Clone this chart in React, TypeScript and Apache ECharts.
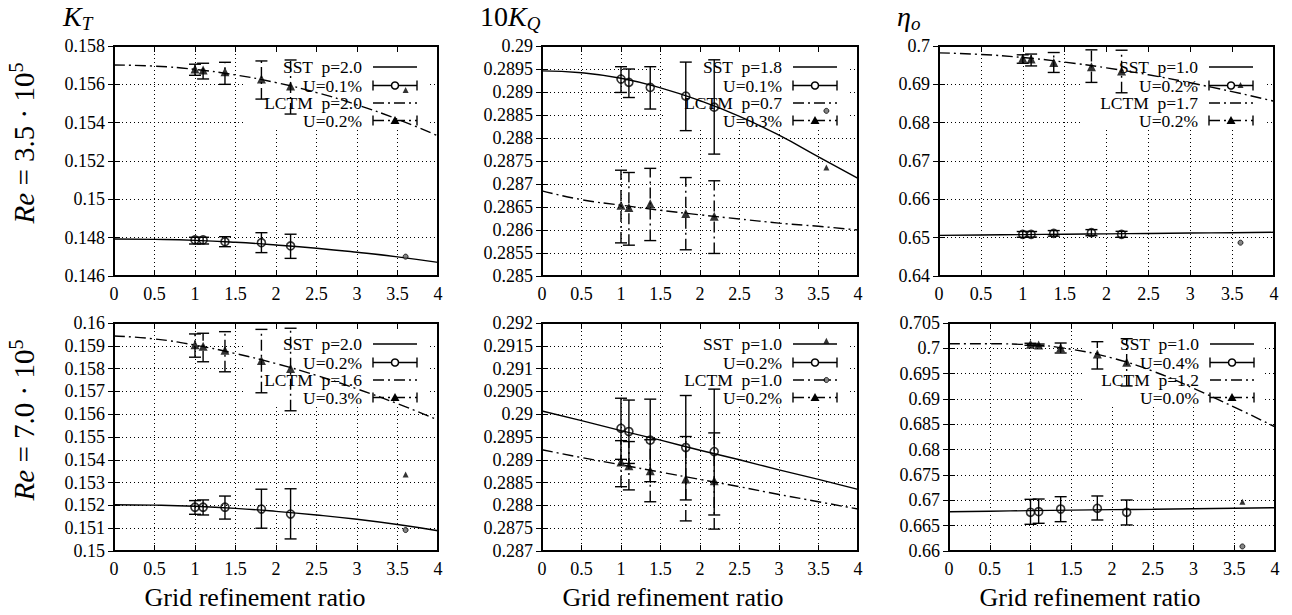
import React, { useEffect, useRef } from "react";
import * as echarts from "echarts";

const FONT = "Liberation Serif";
const DASHDOT = [11, 4, 2, 4];

// ---- x positions ----
const refineX = [1.0, 1.1, 1.37, 1.82, 2.18];
const coarseX = 3.6;
const fitX = [0, 0.5, 1, 1.5, 2, 2.5, 3, 3.5, 4];

// ---- Panel 1: K_T, Re = 3.5e5 ----
const kt35SstY = [0.14788, 0.14788, 0.14779, 0.14774, 0.14757];
const kt35SstLo = [0.14767, 0.14767, 0.14753, 0.14722, 0.14692];
const kt35SstHi = [0.14802, 0.14802, 0.14805, 0.14826, 0.14818];
const kt35LctmY = [0.1568, 0.15675, 0.15666, 0.15628, 0.15591];
const kt35LctmLo = [0.15647, 0.15628, 0.156, 0.15523, 0.15445];
const kt35LctmHi = [0.15705, 0.1571, 0.15715, 0.15722, 0.15727];
const kt35SstFit = [0.14793, 0.14791, 0.14786, 0.14776, 0.14762, 0.14745, 0.14724, 0.147, 0.14671];
const kt35LctmFit = [0.15701, 0.15695, 0.15678, 0.15649, 0.15609, 0.15557, 0.15493, 0.15418, 0.15331];
const kt35CoarseCircle = 0.14701;
const kt35CoarseTri = 0.1557;
const kt35Legend = ["SST  p=2.0", "U=0.1%", "LCTM  p=2.0", "U=0.2%"];

// ---- Panel 2: 10K_Q, Re = 3.5e5 ----
const kq35SstY = [0.28928, 0.28921, 0.2891, 0.28891, 0.28867];
const kq35SstLo = [0.28899, 0.28888, 0.28863, 0.28816, 0.28765];
const kq35SstHi = [0.28955, 0.2895, 0.28955, 0.28965, 0.2897];
const kq35LctmY = [0.28654, 0.28649, 0.28657, 0.28636, 0.2863];
const kq35LctmLo = [0.28572, 0.28567, 0.28577, 0.28557, 0.28549];
const kq35LctmHi = [0.2873, 0.28725, 0.28734, 0.28714, 0.28707];
const kq35SstFit = [0.28946, 0.28942, 0.2893, 0.28909, 0.28881, 0.28847, 0.28806, 0.28759, 0.28712];
const kq35LctmFit = [0.28685, 0.28666, 0.28654, 0.28643, 0.28633, 0.28624, 0.28615, 0.28608, 0.286];
const kq35CoarseCircle = 0.28859;
const kq35CoarseTri = 0.28736;
const kq35Legend = ["SST  p=1.8", "U=0.1%", "LCTM  p=0.7", "U=0.3%"];

// ---- Panel 3: eta_o, Re = 3.5e5 ----
const eta35SstY = [0.65087, 0.65087, 0.65113, 0.6513, 0.65087];
const eta35SstLo = [0.6501, 0.65015, 0.6504, 0.6505, 0.6501];
const eta35SstHi = [0.6516, 0.6516, 0.65185, 0.6521, 0.65165];
const eta35LctmY = [0.6968, 0.6966, 0.6957, 0.6946, 0.6935];
const eta35LctmLo = [0.6955, 0.6948, 0.6931, 0.6905, 0.6878];
const eta35LctmHi = [0.6977, 0.6979, 0.6983, 0.699, 0.6989];
const eta35SstFit = [0.6506, 0.6507, 0.6508, 0.6509, 0.651, 0.6511, 0.6512, 0.6513, 0.6514];
const eta35LctmFit = [0.6982, 0.6978, 0.697, 0.6958, 0.6943, 0.6925, 0.6904, 0.6881, 0.6856];
const eta35CoarseCircle = 0.64869;
const eta35CoarseTri = 0.68983;
const eta35Legend = ["SST  p=1.0", "U=0.2%", "LCTM  p=1.7", "U=0.2%"];

// ---- Panel 4: K_T, Re = 7.0e5 ----
const kt70SstY = [0.15192, 0.15192, 0.15192, 0.15184, 0.15162];
const kt70SstLo = [0.15161, 0.15158, 0.1514, 0.151, 0.15053];
const kt70SstHi = [0.15221, 0.15224, 0.15241, 0.15271, 0.15273];
const kt70LctmY = [0.15905, 0.15898, 0.1588, 0.15835, 0.158];
const kt70LctmLo = [0.1585, 0.1583, 0.15786, 0.15694, 0.15615];
const kt70LctmHi = [0.15952, 0.15955, 0.15962, 0.15972, 0.15977];
const kt70SstFit = [0.15203, 0.15201, 0.15196, 0.15187, 0.15174, 0.15158, 0.15139, 0.15116, 0.15089];
const kt70LctmFit = [0.15943, 0.1593, 0.15903, 0.15866, 0.15822, 0.1577, 0.15711, 0.15646, 0.15575];
const kt70CoarseCircle = 0.15092;
const kt70CoarseTri = 0.15336;
const kt70Legend = ["SST  p=2.0", "U=0.2%", "LCTM  p=1.6", "U=0.3%"];

// ---- Panel 5: 10K_Q, Re = 7.0e5 ----
const kq70SstY = [0.28969, 0.28962, 0.28943, 0.28927, 0.28918];
const kq70SstLo = [0.28901, 0.28892, 0.28852, 0.28812, 0.28779];
const kq70SstHi = [0.29035, 0.29031, 0.29033, 0.29041, 0.29055];
const kq70LctmY = [0.28895, 0.28887, 0.28876, 0.28858, 0.28854];
const kq70LctmLo = [0.28841, 0.28834, 0.28808, 0.28766, 0.28748];
const kq70LctmHi = [0.28942, 0.2894, 0.28944, 0.28951, 0.28959];
const kq70SstFit = [0.29007, 0.28986, 0.28964, 0.28943, 0.28921, 0.289, 0.28878, 0.28857, 0.28835];
const kq70LctmFit = [0.28922, 0.28905, 0.28889, 0.28873, 0.28857, 0.28841, 0.28824, 0.28808, 0.28792];
const kq70CoarseCircle = 0.29075;
const kq70CoarseTri = 0.29161;
const kq70Legend = ["SST  p=1.0", "U=0.2%", "LCTM  p=1.0", "U=0.2%"];

// ---- Panel 6: eta_o, Re = 7.0e5 ----
const eta70SstY = [0.66764, 0.66776, 0.66829, 0.66843, 0.66764];
const eta70SstLo = [0.66527, 0.66547, 0.66579, 0.66612, 0.66514];
const eta70SstHi = [0.6702, 0.67026, 0.67072, 0.67086, 0.67007];
const eta70LctmY = [0.7008, 0.70065, 0.70013, 0.69888, 0.69724];
const eta70LctmLo = [0.7006, 0.70045, 0.69908, 0.69592, 0.69257];
const eta70LctmHi = [0.701, 0.70085, 0.70105, 0.70131, 0.7019];
const eta70SstFit = [0.66776, 0.66786, 0.66796, 0.66806, 0.66816, 0.66825, 0.66835, 0.66845, 0.66855];
const eta70LctmFit = [0.7009, 0.7009, 0.7007, 0.6998, 0.6981, 0.6955, 0.6921, 0.6884, 0.6845];
const eta70CoarseCircle = 0.6609;
const eta70CoarseTri = 0.66973;
const eta70Legend = ["SST  p=1.0", "U=0.4%", "LCTM  p=1.2", "U=0.0%"];

// ---- axis ranges ----
const xMin = 0;
const xMax = 4;
const xStep = 0.5;

const panels = [
  { left: 114, top: 46, width: 324, height: 230, yMin: 0.146, yMax: 0.158, yStep: 0.002,
    sstY: kt35SstY, sstLo: kt35SstLo, sstHi: kt35SstHi, lctmY: kt35LctmY, lctmLo: kt35LctmLo, lctmHi: kt35LctmHi,
    sstFit: kt35SstFit, lctmFit: kt35LctmFit, cc: kt35CoarseCircle, ct: kt35CoarseTri, legend: kt35Legend },
  { left: 542, top: 46, width: 316, height: 230, yMin: 0.285, yMax: 0.29, yStep: 0.0005,
    sstY: kq35SstY, sstLo: kq35SstLo, sstHi: kq35SstHi, lctmY: kq35LctmY, lctmLo: kq35LctmLo, lctmHi: kq35LctmHi,
    sstFit: kq35SstFit, lctmFit: kq35LctmFit, cc: kq35CoarseCircle, ct: kq35CoarseTri, legend: kq35Legend },
  { left: 939, top: 46, width: 335, height: 230, yMin: 0.64, yMax: 0.7, yStep: 0.01,
    sstY: eta35SstY, sstLo: eta35SstLo, sstHi: eta35SstHi, lctmY: eta35LctmY, lctmLo: eta35LctmLo, lctmHi: eta35LctmHi,
    sstFit: eta35SstFit, lctmFit: eta35LctmFit, cc: eta35CoarseCircle, ct: eta35CoarseTri, legend: eta35Legend },
  { left: 114, top: 323, width: 324, height: 228, yMin: 0.15, yMax: 0.16, yStep: 0.001,
    sstY: kt70SstY, sstLo: kt70SstLo, sstHi: kt70SstHi, lctmY: kt70LctmY, lctmLo: kt70LctmLo, lctmHi: kt70LctmHi,
    sstFit: kt70SstFit, lctmFit: kt70LctmFit, cc: kt70CoarseCircle, ct: kt70CoarseTri, legend: kt70Legend },
  { left: 542, top: 323, width: 316, height: 228, yMin: 0.287, yMax: 0.292, yStep: 0.0005,
    sstY: kq70SstY, sstLo: kq70SstLo, sstHi: kq70SstHi, lctmY: kq70LctmY, lctmLo: kq70LctmLo, lctmHi: kq70LctmHi,
    sstFit: kq70SstFit, lctmFit: kq70LctmFit, cc: kq70CoarseCircle, ct: kq70CoarseTri, legend: kq70Legend },
  { left: 949, top: 323, width: 326, height: 228, yMin: 0.66, yMax: 0.705, yStep: 0.005,
    sstY: eta70SstY, sstLo: eta70SstLo, sstHi: eta70SstHi, lctmY: eta70LctmY, lctmLo: eta70LctmLo, lctmHi: eta70LctmHi,
    sstFit: eta70SstFit, lctmFit: eta70LctmFit, cc: eta70CoarseCircle, ct: eta70CoarseTri, legend: eta70Legend },
];

const MATH_RICH = {
  i: { fontFamily: FONT, fontStyle: "italic", fontSize: 28, lineHeight: 34, color: "#000" },
  r: { fontFamily: FONT, fontSize: 28, lineHeight: 34, color: "#000" },
  sub: { fontFamily: FONT, fontStyle: "italic", fontSize: 19, lineHeight: 19, verticalAlign: "bottom", color: "#000" },
  sup: { fontFamily: FONT, fontSize: 19, lineHeight: 19, verticalAlign: "top", color: "#000" },
};

function errRender(dash: number[] | null) {
  return (params: any, api: any) => {
    const x = api.value(0);
    const lo = api.value(1);
    const hi = api.value(2);
    const a = api.coord([x, lo]);
    const b = api.coord([x, hi]);
    const cap = 6;
    const st: any = { stroke: "#000", lineWidth: 1.4 };
    if (dash) st.lineDash = dash;
    const capSt = { stroke: "#000", lineWidth: 1.4 };
    return {
      type: "group",
      children: [
        { type: "line", shape: { x1: a[0], y1: a[1], x2: b[0], y2: b[1] }, style: st },
        { type: "line", shape: { x1: a[0] - cap, y1: a[1], x2: a[0] + cap, y2: a[1] }, style: capSt },
        { type: "line", shape: { x1: b[0] - cap, y1: b[1], x2: b[0] + cap, y2: b[1] }, style: capSt },
      ],
    };
  };
}

function buildOption() {
  const grid: any[] = [];
  const xAxis: any[] = [];
  const yAxis: any[] = [];
  const series: any[] = [];
  const graphic: any[] = [];
  const n = panels.length;

  const tickStyle = { show: true, inside: true, length: 6, lineStyle: { color: "#000", width: 1 } };
  const split = { show: true, lineStyle: { color: "#000", width: 1, type: [1, 3] } };
  const label = { color: "#000", fontFamily: FONT, fontSize: 18 };

  panels.forEach((p, i) => {
    grid.push({ left: p.left, top: p.top, width: p.width, height: p.height, show: true, borderColor: "#000", borderWidth: 2, containLabel: false });
    xAxis[i] = { type: "value", gridIndex: i, position: "bottom", min: xMin, max: xMax, interval: xStep,
      axisLine: { show: false }, axisTick: tickStyle, splitLine: split, axisLabel: { ...label, margin: 9 } };
    xAxis[n + i] = { type: "value", gridIndex: i, position: "top", min: xMin, max: xMax, interval: xStep,
      axisLine: { show: false }, axisTick: tickStyle, splitLine: { show: false }, axisLabel: { show: false } };
    yAxis[i] = { type: "value", gridIndex: i, position: "left", min: p.yMin, max: p.yMax, interval: p.yStep,
      axisLine: { show: false }, axisTick: tickStyle, splitLine: split, axisLabel: { ...label, margin: 9 } };
    yAxis[n + i] = { type: "value", gridIndex: i, position: "right", min: p.yMin, max: p.yMax, interval: p.yStep,
      axisLine: { show: false }, axisTick: tickStyle, splitLine: { show: false }, axisLabel: { show: false } };

    const ax = { xAxisIndex: i, yAxisIndex: i };
    series.push({ type: "line", ...ax, data: fitX.map((x, k) => [x, p.sstFit[k]]), smooth: 0.5,
      symbol: "none", lineStyle: { color: "#000", width: 1.4 }, silent: true, z: 2 });
    series.push({ type: "line", ...ax, data: fitX.map((x, k) => [x, p.lctmFit[k]]), smooth: 0.5,
      symbol: "none", lineStyle: { color: "#000", width: 1.4, type: DASHDOT }, silent: true, z: 2 });
    series.push({ type: "custom", ...ax, data: refineX.map((x, k) => [x, p.sstLo[k], p.sstHi[k]]),
      encode: { x: 0, y: [1, 2] }, renderItem: errRender(null), silent: true, z: 3 });
    series.push({ type: "custom", ...ax, data: refineX.map((x, k) => [x, p.lctmLo[k], p.lctmHi[k]]),
      encode: { x: 0, y: [1, 2] }, renderItem: errRender(DASHDOT), silent: true, z: 3 });
    series.push({ type: "scatter", ...ax, data: refineX.map((x, k) => [x, p.sstY[k]]), symbol: "circle", symbolSize: 8,
      itemStyle: { color: "rgba(0,0,0,0)", borderColor: "#000", borderWidth: 1.6 }, silent: true, z: 4 });
    series.push({ type: "scatter", ...ax, data: refineX.map((x, k) => [x, p.lctmY[k]]), symbol: "triangle", symbolSize: 9,
      itemStyle: { color: "#000" }, silent: true, z: 4 });
    series.push({ type: "scatter", ...ax, data: [[coarseX, p.cc]], symbol: "circle", symbolSize: 5,
      itemStyle: { color: "#666", borderColor: "#000", borderWidth: 1 }, silent: true, z: 4 });
    series.push({ type: "scatter", ...ax, data: [[coarseX, p.ct]], symbol: "triangle", symbolSize: 6,
      itemStyle: { color: "#000" }, silent: true, z: 4 });

    // legend (gnuplot style key with opaque background)
    const R = p.left + p.width;
    const T = p.top;
    graphic.push({ type: "rect", z: 1, silent: true, shape: { x: R - 193, y: T + 8, width: 183, height: 74 }, style: { fill: "#fff" } });
    const rows = [21, 39.5, 57, 74.5];
    p.legend.forEach((t, k) => {
      graphic.push({ type: "text", z: 10, silent: true, x: R - 76, y: T + rows[k],
        style: { text: t, fontFamily: FONT, fontSize: 17.5, fill: "#000", align: "right", verticalAlign: "middle" } });
    });
    const x1 = R - 65, x2 = R - 21, xc = (x1 + x2) / 2;
    const solid = { stroke: "#000", lineWidth: 1.4 };
    const dd = { stroke: "#000", lineWidth: 1.4, lineDash: DASHDOT };
    graphic.push({ type: "line", z: 10, silent: true, shape: { x1, y1: T + rows[0], x2, y2: T + rows[0] }, style: solid });
    graphic.push({ type: "line", z: 10, silent: true, shape: { x1, y1: T + rows[2], x2, y2: T + rows[2] }, style: dd });
    [1, 3].forEach((k) => {
      const y = T + rows[k];
      const st = k === 1 ? solid : dd;
      graphic.push({ type: "line", z: 10, silent: true, shape: { x1, y1: y, x2, y2: y }, style: st });
      graphic.push({ type: "line", z: 10, silent: true, shape: { x1, y1: y - 5, x2: x1, y2: y + 5 }, style: solid });
      graphic.push({ type: "line", z: 10, silent: true, shape: { x1: x2, y1: y - 5, x2, y2: y + 5 }, style: solid });
      if (k === 1) {
        graphic.push({ type: "circle", z: 11, silent: true, shape: { cx: xc, cy: y, r: 3.5 }, style: { fill: "#fff", stroke: "#000", lineWidth: 1.5 } });
      } else {
        graphic.push({ type: "polygon", z: 11, silent: true, shape: { points: [[xc, y - 4.5], [xc - 4.5, y + 3.5], [xc + 4.5, y + 3.5]] }, style: { fill: "#000" } });
      }
    });
  });

  // column titles
  graphic.push({ type: "text", z: 10, silent: true, x: 63, y: 16, style: { text: "{i|K}{sub|T}", rich: MATH_RICH, align: "left", verticalAlign: "middle" } });
  graphic.push({ type: "text", z: 10, silent: true, x: 480, y: 16, style: { text: "{r|10}{i|K}{sub|Q}", rich: MATH_RICH, align: "left", verticalAlign: "middle" } });
  graphic.push({ type: "text", z: 10, silent: true, x: 897, y: 16, style: { text: "{i|η}{sub|o}", rich: MATH_RICH, align: "left", verticalAlign: "middle" } });

  // row labels
  const rowRich = {
    i: { ...MATH_RICH.i, fontSize: 29, lineHeight: 36 },
    r: { ...MATH_RICH.r, fontSize: 29, lineHeight: 36 },
    sup: { ...MATH_RICH.sup, fontSize: 20, lineHeight: 20 },
  };
  graphic.push({ type: "text", z: 10, silent: true, x: 24, y: 143, rotation: Math.PI / 2,
    style: { text: "{i|Re}{r| = 3.5 · 10}{sup|5}", rich: rowRich, align: "center", verticalAlign: "middle" } });
  graphic.push({ type: "text", z: 10, silent: true, x: 24, y: 420, rotation: Math.PI / 2,
    style: { text: "{i|Re}{r| = 7.0 · 10}{sup|5}", rich: rowRich, align: "center", verticalAlign: "middle" } });

  // x axis names
  [255, 673, 1090].forEach((cx) => {
    graphic.push({ type: "text", z: 10, silent: true, x: cx, y: 597,
      style: { text: "Grid refinement ratio", fontFamily: FONT, fontSize: 26, fill: "#000", align: "center", verticalAlign: "middle" } });
  });

  return { animation: false, backgroundColor: "#fff", textStyle: { fontFamily: FONT }, grid, xAxis, yAxis, series, graphic };
}

export default function App() {
  const ref = useRef<HTMLDivElement>(null);
  useEffect(() => {
    if (!ref.current) return;
    const chart = echarts.init(ref.current, undefined, { renderer: "svg" });
    chart.setOption(buildOption() as any);
    return () => chart.dispose();
  }, []);
  return <div ref={ref} style={{ position: "absolute", left: 0, top: 0, width: 1292, height: 615 }} />;
}
